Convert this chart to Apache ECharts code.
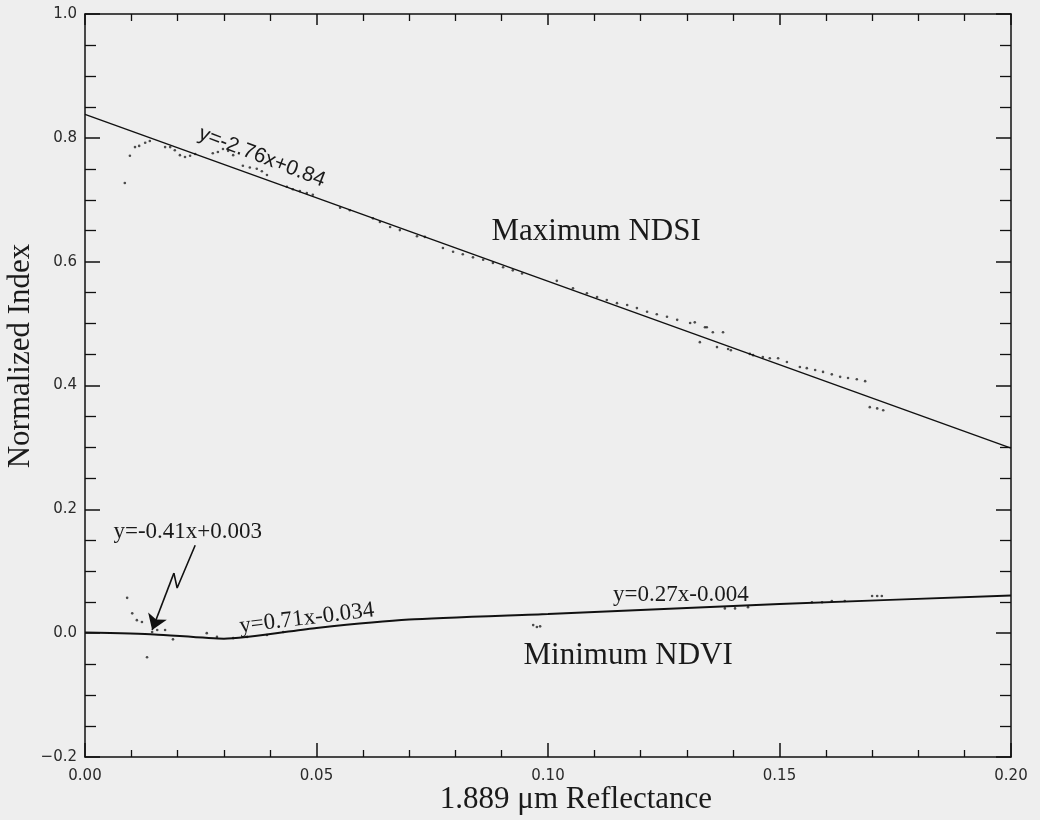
<!DOCTYPE html>
<html>
<head>
<meta charset="utf-8">
<script src="https://cdn.jsdelivr.net/npm/echarts@6/dist/echarts.min.js"></script>
<style>
html,body{margin:0;padding:0;background:#eeeeee;}
#chart{width:1040px;height:820px;}
</style>
</head>
<body>
<div id="chart"></div>
<script>
// ---- data ----
const xTickLabels = ['0.00', '0.05', '0.10', '0.15', '0.20'];
const yTickLabels = ['\u22120.2', '0.0', '0.2', '0.4', '0.6', '0.8', '1.0'];

// fitted lines
const ndsiLine = [[0, 0.838], [0.2, 0.299]];
const ndviLine = [[0, 0.001], [0.015, -0.002], [0.030, -0.009], [0.05, 0.0085], [0.07, 0.022], [0.10, 0.031], [0.15, 0.047], [0.20, 0.061]];

// observed maximum NDSI points
const ndsiDots = [
  [0.0086, 0.727], [0.0097, 0.771], [0.0108, 0.785], [0.0117, 0.787], [0.0130, 0.792], [0.0140, 0.795],
  [0.0173, 0.785], [0.0184, 0.785], [0.0194, 0.780], [0.0205, 0.772], [0.0216, 0.769], [0.0227, 0.771],
  [0.0238, 0.774], [0.0276, 0.775], [0.0287, 0.777], [0.0298, 0.782], [0.0309, 0.779], [0.0320, 0.772],
  [0.0341, 0.755], [0.0356, 0.752], [0.0371, 0.750], [0.0382, 0.746], [0.0393, 0.740], [0.0436, 0.721],
  [0.0449, 0.717], [0.0464, 0.714], [0.0479, 0.711], [0.0492, 0.708], [0.0551, 0.687], [0.0572, 0.683],
  [0.0622, 0.670], [0.0637, 0.664], [0.0659, 0.656], [0.0680, 0.651], [0.0717, 0.641], [0.0734, 0.640],
  [0.0773, 0.622], [0.0795, 0.616], [0.0816, 0.612], [0.0838, 0.607], [0.0860, 0.603], [0.0881, 0.598],
  [0.0903, 0.591], [0.0924, 0.586], [0.0944, 0.581], [0.1019, 0.569], [0.1054, 0.557], [0.1084, 0.549],
  [0.1106, 0.543], [0.1127, 0.538], [0.1149, 0.533], [0.1171, 0.530], [0.1192, 0.525], [0.1214, 0.519],
  [0.1235, 0.515], [0.1257, 0.511], [0.1279, 0.506], [0.1307, 0.501], [0.1317, 0.502], [0.1339, 0.494],
  [0.1343, 0.494], [0.1356, 0.486], [0.1378, 0.486], [0.1328, 0.470], [0.1365, 0.462], [0.1389, 0.459],
  [0.1395, 0.457], [0.1436, 0.451], [0.1443, 0.449], [0.1464, 0.446], [0.1479, 0.444], [0.1497, 0.444],
  [0.1516, 0.438], [0.1544, 0.430], [0.1559, 0.428], [0.1577, 0.425], [0.1594, 0.422], [0.1613, 0.418],
  [0.1631, 0.414], [0.1648, 0.412], [0.1667, 0.410], [0.1685, 0.407], [0.1695, 0.365], [0.1711, 0.363],
  [0.1724, 0.360]
];

// observed minimum NDVI points
const ndviDots = [
  [0.0091, 0.057], [0.0102, 0.032], [0.0112, 0.021], [0.0123, 0.018], [0.0134, -0.039], [0.0145, 0.002],
  [0.0156, 0.005], [0.0173, 0.005], [0.0190, -0.010], [0.0263, 0.000], [0.0285, -0.006], [0.0320, -0.008],
  [0.0350, -0.006], [0.0393, -0.003], [0.0428, 0.002], [0.0968, 0.013], [0.0976, 0.010], [0.0983, 0.011],
  [0.1382, 0.040], [0.1404, 0.040], [0.1432, 0.042], [0.1570, 0.050], [0.1592, 0.050], [0.1613, 0.052],
  [0.1641, 0.052], [0.1700, 0.060], [0.1711, 0.060], [0.1721, 0.060]
];

// zig-zag pointer from the first NDVI equation to the curve
const arrowPath = [[0.0238, 0.142], [0.0199, 0.073], [0.0192, 0.097]];
const arrowTip = [0.0145, 0.005];

// annotation texts and their anchor points (data coords)
const annotations = [
  { text: 'y=-2.76x+0.84', at: [0.0382, 0.769], font: '21px "Liberation Sans"', rot: -0.37 },
  { text: 'Maximum NDSI', at: [0.1104, 0.648], font: '31px "Liberation Serif"', rot: 0 },
  { text: 'Minimum NDVI', at: [0.1173, -0.036], font: '31px "Liberation Serif"', rot: 0 },
  { text: 'y=-0.41x+0.003', at: [0.0222, 0.163], font: '23px "Liberation Serif"', rot: 0 },
  { text: 'y=0.71x-0.034', at: [0.0479, 0.024], font: '23px "Liberation Serif"', rot: 0.12 },
  { text: 'y=0.27x-0.004', at: [0.1287, 0.061], font: '23px "Liberation Serif"', rot: 0 }
];
const xAxisTitle = '1.889 \u03bcm Reflectance';
const yAxisTitle = 'Normalized Index';

// ---- chart ----
const chart = echarts.init(document.getElementById('chart'), null, { renderer: 'canvas' });
const ink = '#111';
const labelStyle = { color: '#2a2a2a', fontFamily: 'DejaVu Sans', fontSize: 15 };

function xAxisCfg(pos, show) {
  return {
    type: 'value', position: pos, min: 0, max: 0.2, interval: 0.05,
    axisLine: { show: true, onZero: false, lineStyle: { color: ink, width: 1.5 } },
    axisTick: { show: true, inside: true, length: pos === 'bottom' ? 14 : 11, lineStyle: { color: ink, width: 1.5 } },
    minorTick: { show: true, splitNumber: 5, length: 7, lineStyle: { color: ink, width: 1.3 } },
    axisLabel: show ? Object.assign({ margin: 12, formatter: v => xTickLabels[Math.round(v / 0.05)] }, labelStyle) : { show: false },
    splitLine: { show: false }, minorSplitLine: { show: false }
  };
}
function yAxisCfg(pos, show) {
  return {
    type: 'value', position: pos, min: -0.2, max: 1.0, interval: 0.2,
    axisLine: { show: true, onZero: false, lineStyle: { color: ink, width: 1.5 } },
    axisTick: { show: true, inside: true, length: 15, lineStyle: { color: ink, width: 1.5 } },
    minorTick: { show: true, splitNumber: 4, length: 11, lineStyle: { color: ink, width: 1.3 } },
    axisLabel: show ? Object.assign({ margin: 8, formatter: v => yTickLabels[Math.round((v + 0.2) / 0.2)] }, labelStyle) : { show: false },
    splitLine: { show: false }, minorSplitLine: { show: false }
  };
}

const option = {
  backgroundColor: '#eeeeee',
  animation: false,
  grid: { left: 85, right: 29, top: 14, bottom: 63, containLabel: false },
  xAxis: [xAxisCfg('bottom', true), xAxisCfg('top', false)],
  yAxis: [yAxisCfg('left', true), yAxisCfg('right', false)],
  series: [
    { name: 'NDSI points', type: 'scatter', data: ndsiDots, symbolSize: 2.6, itemStyle: { color: '#222' }, silent: true },
    { name: 'NDVI points', type: 'scatter', data: ndviDots, symbolSize: 2.6, itemStyle: { color: '#222' }, silent: true },
    { name: 'Maximum NDSI', type: 'line', data: ndsiLine, showSymbol: false, lineStyle: { color: ink, width: 1.4 }, silent: true },
    { name: 'Minimum NDVI', type: 'line', data: ndviLine, showSymbol: false, smooth: 0.2, lineStyle: { color: ink, width: 2 }, silent: true },
    {
      name: 'pointer', type: 'line', data: arrowPath, showSymbol: false, lineStyle: { color: ink, width: 1.6 }, silent: true,
      markLine: {
        silent: true, symbol: ['none', 'arrow'], symbolSize: 15,
        label: { show: false }, lineStyle: { color: ink, width: 1.6, type: 'solid' },
        itemStyle: { color: ink },
        emphasis: { disabled: true },
        data: [[{ coord: arrowPath[arrowPath.length - 1] }, { coord: arrowTip }]]
      }
    }
  ]
};
chart.setOption(option);

function addText() {
  const els = annotations.map(a => {
    const p = chart.convertToPixel({ gridIndex: 0 }, a.at);
    return {
      type: 'text', x: p[0], y: p[1], rotation: a.rot, silent: true,
      style: { text: a.text, font: a.font, fill: '#1a1a1a', align: 'center', verticalAlign: 'middle' }
    };
  });
  els.push({
    type: 'text', x: 576, y: 800, silent: true,
    style: { text: xAxisTitle, font: '31px "Liberation Serif"', fill: '#1a1a1a', align: 'center', verticalAlign: 'middle' }
  });
  els.push({
    type: 'text', x: 21, y: 356, rotation: Math.PI / 2, silent: true,
    style: { text: yAxisTitle, font: '31px "Liberation Serif"', fill: '#1a1a1a', align: 'center', verticalAlign: 'middle' }
  });
  chart.setOption({ graphic: els });
}
addText();
</script>
</body>
</html>
